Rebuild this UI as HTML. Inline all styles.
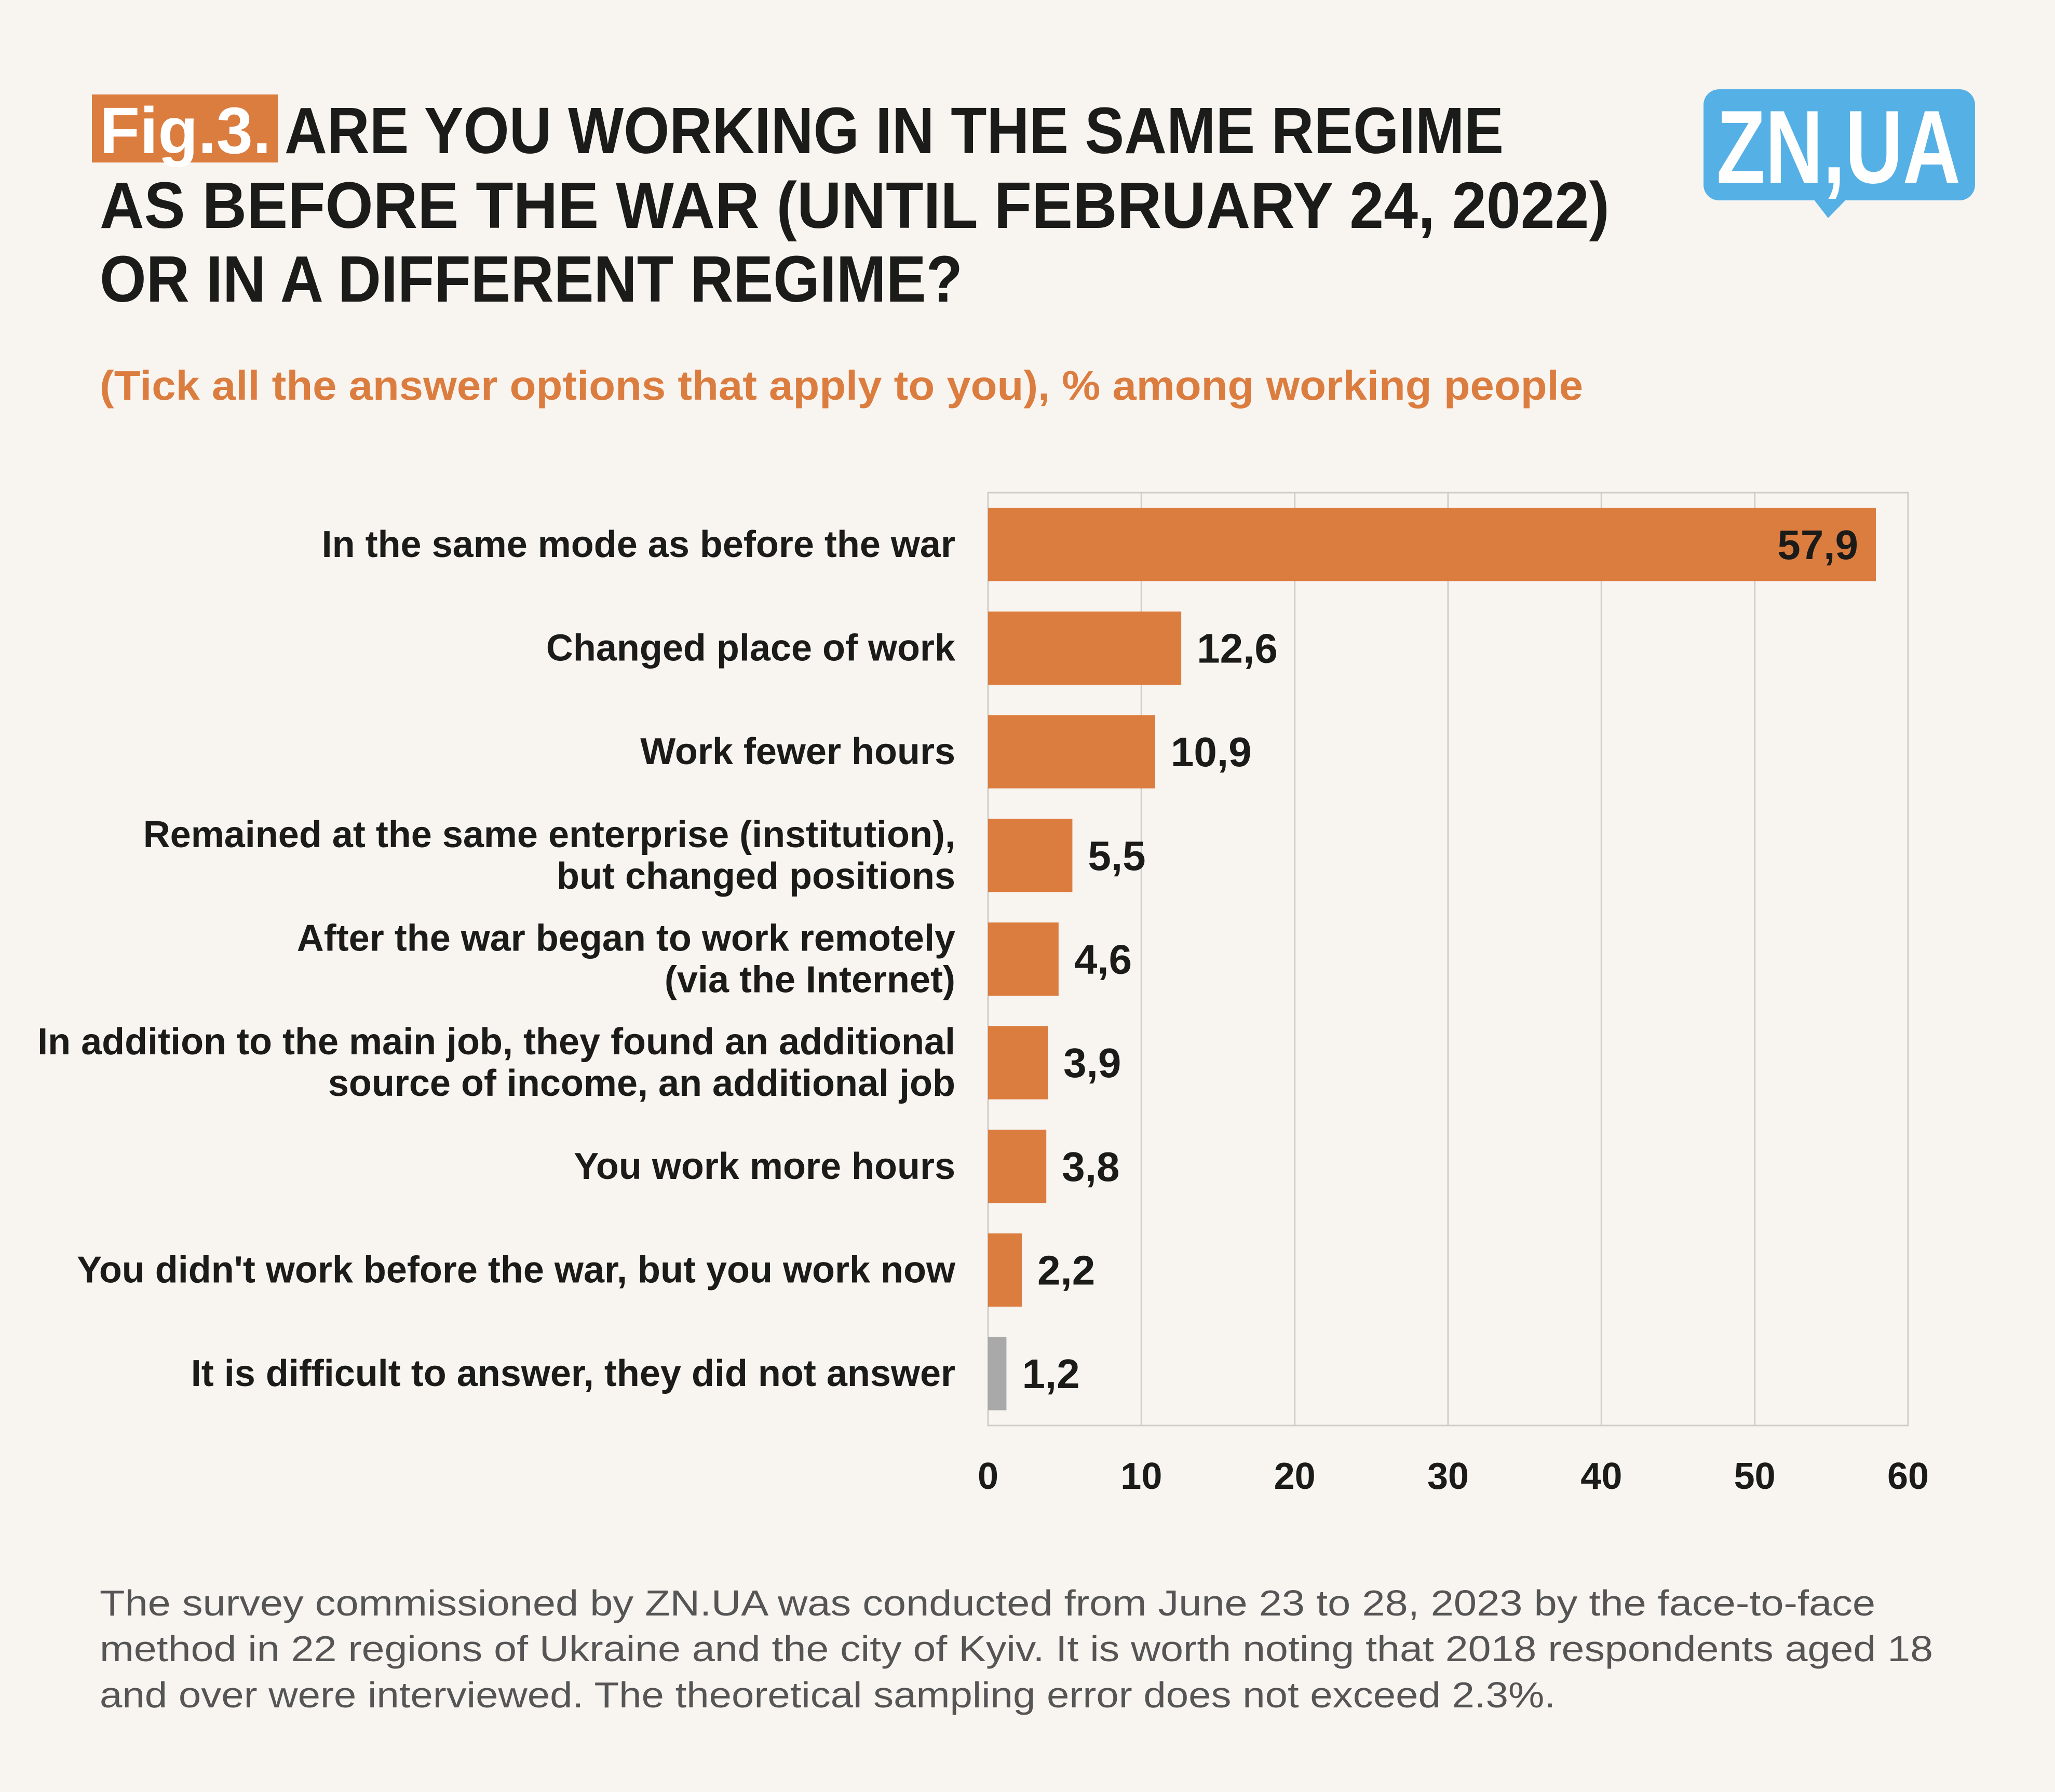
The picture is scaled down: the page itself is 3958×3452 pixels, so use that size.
<!DOCTYPE html>
<html><head><meta charset="utf-8"><style>
html,body{margin:0;padding:0;background:#f8f5f1;}
svg{display:block;font-family:"Liberation Sans",sans-serif;}
</style></head><body>
<svg id="c" width="3958" height="3452" viewBox="0 0 3958 3452" xmlns="http://www.w3.org/2000/svg">
<rect width="3958" height="3452" fill="#f8f5f1"/>
<rect x="177" y="182" width="358" height="131" fill="#dc7d40"/>
<text x="192" y="295" font-size="126" font-weight="bold" fill="#fff" textLength="330" lengthAdjust="spacingAndGlyphs">Fig.3.</text>
<g font-size="126" font-weight="bold" fill="#1b1b19">
<text x="548" y="295" textLength="2348" lengthAdjust="spacingAndGlyphs">ARE YOU WORKING IN THE SAME REGIME</text>
<text x="192" y="439" textLength="2908" lengthAdjust="spacingAndGlyphs">AS BEFORE THE WAR (UNTIL FEBRUARY 24, 2022)</text>
<text x="192" y="581" textLength="1662" lengthAdjust="spacingAndGlyphs">OR IN A DIFFERENT REGIME?</text>
</g>
<text x="192" y="770" font-size="80" font-weight="bold" fill="#dc7d40" textLength="2857" lengthAdjust="spacingAndGlyphs">(Tick all the answer options that apply to you), % among working people</text>
<g>
<rect x="3281" y="172" width="523" height="214" rx="30" fill="#55b0e6"/>
<path d="M3490 380 L3521 420 L3560 380 Z" fill="#55b0e6"/>
<text x="3306" y="352" font-size="200" font-weight="bold" fill="#fff" textLength="470" lengthAdjust="spacingAndGlyphs">ZN,UA</text>
</g>
<g id="plot"></g>
<g font-size="70" fill="#555">
<text x="192" y="3112" textLength="3420" lengthAdjust="spacingAndGlyphs">The survey commissioned by ZN.UA was conducted from June 23 to 28, 2023 by the face-to-face</text>
<text x="192" y="3200" textLength="3531" lengthAdjust="spacingAndGlyphs">method in 22 regions of Ukraine and the city of Kyiv. It is worth noting that 2018 respondents aged 18</text>
<text x="192" y="3289" textLength="2804" lengthAdjust="spacingAndGlyphs">and over were interviewed. The theoretical sampling error does not exceed 2.3%.</text>
</g>
</svg>
<script>
const categories = [
 ["In the same mode as before the war"],
 ["Changed place of work"],
 ["Work fewer hours"],
 ["Remained at the same enterprise (institution),","but changed positions"],
 ["After the war began to work remotely","(via the Internet)"],
 ["In addition to the main job, they found an additional","source of income, an additional job"],
 ["You work more hours"],
 ["You didn't work before the war, but you work now"],
 ["It is difficult to answer, they did not answer"]
];
const values = [57.9, 12.6, 10.9, 5.5, 4.6, 3.9, 3.8, 2.2, 1.2];
const valueLabels = ["57,9","12,6","10,9","5,5","4,6","3,9","3,8","2,2","1,2"];
const ticks = [0, 10, 20, 30, 40, 50, 60];

const NS = "http://www.w3.org/2000/svg";
const g = document.getElementById('plot');
const L = 1903, R = 3675, T = 949, B = 2746, MAX = 60;
const x = v => L + (v / MAX) * (R - L);
const step = (B - T) / categories.length;
const yc = i => T + step * (i + 0.5);
const BH = 141;
function mk(tag, attrs, text) {
  const e = document.createElementNS(NS, tag);
  for (const k in attrs) e.setAttribute(k, attrs[k]);
  if (text !== undefined) e.textContent = text;
  g.appendChild(e);
  return e;
}
ticks.forEach(t => {
  const ln = mk('line', {x1: x(t), x2: x(t), y1: T, y2: B, stroke: '#d0cdc9', 'stroke-width': 3});
  
  
  const tx = mk('text', {x: x(t), y: 2868, 'font-size': 72, 'font-weight': 'bold', 'text-anchor': 'middle', fill: '#1b1b19'}, String(t));
  
  
});
const frame = mk('rect', {x: L, y: T, width: R - L, height: B - T, fill: 'none', stroke: '#d0cdc9', 'stroke-width': 3});


values.forEach((v, i) => {
  const c = yc(i);
  const bar = mk('rect', {x: x(0), y: c - BH / 2, width: x(v) - x(0), height: BH, fill: i === values.length - 1 ? '#a9a9a9' : '#dc7d40'});
  
  
  const inside = v > 40;
  const vl = mk('text', {x: inside ? x(v) - 34 : x(v) + 30, y: c + 28, 'font-size': 80, 'font-weight': 'bold', fill: '#1b1b19', 'text-anchor': inside ? 'end' : 'start'}, valueLabels[i]);
  
  
  const lines = categories[i];
  lines.forEach((s, j) => {
    const off = lines.length === 1 ? 0 : (j === 0 ? -40 : 40);
    const cl = mk('text', {x: 1840, y: c + off + 24, 'font-size': 72, 'font-weight': 'bold', fill: '#1b1b19', 'text-anchor': 'end'}, s);
    
    
  });
});
</script>
</body></html>
